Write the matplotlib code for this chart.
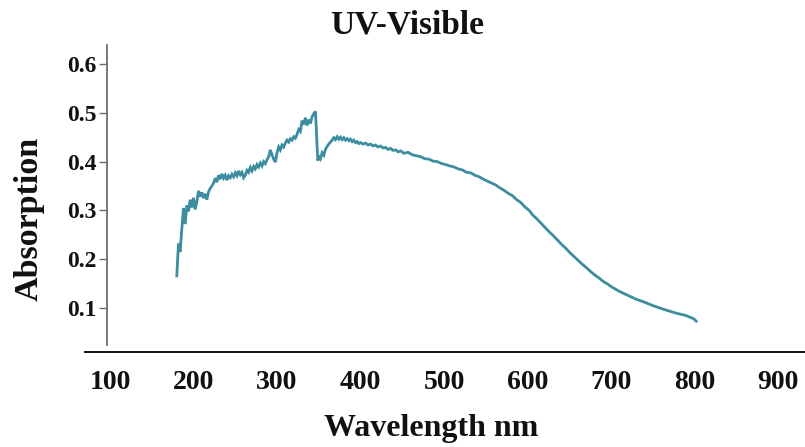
import matplotlib
matplotlib.use("Agg")
import matplotlib.pyplot as plt
from matplotlib.lines import Line2D

# ---- data ----
wavelength_uv = [180, 182, 184, 186, 188, 190, 192, 194, 196, 198, 200, 202, 204,
                 206, 208, 210, 212, 214, 216, 218, 220, 222, 224, 226, 228, 230,
                 232, 234, 236, 238, 240, 242, 244, 246, 248, 250, 252, 254, 256,
                 258, 260, 262, 264, 266, 268, 270, 272, 274, 276, 278, 280, 282,
                 284, 286, 288, 290, 292, 294, 296, 298, 300, 302, 304, 306, 308,
                 310, 312, 314, 316, 318, 320, 322, 324, 326, 328, 330, 332, 334,
                 336, 338, 340, 342, 344, 346, 347, 348, 349]
absorb_uv = [0.166, 0.232, 0.215, 0.262, 0.305, 0.272, 0.310, 0.298, 0.322, 0.306,
             0.326, 0.302, 0.318, 0.340, 0.328, 0.337, 0.325, 0.334, 0.322, 0.338,
             0.345, 0.350, 0.356, 0.366, 0.358, 0.372, 0.364, 0.375, 0.366, 0.372,
             0.362, 0.371, 0.367, 0.374, 0.369, 0.377, 0.371, 0.381, 0.373, 0.378,
             0.367, 0.372, 0.382, 0.378, 0.388, 0.381, 0.390, 0.385, 0.394, 0.389,
             0.397, 0.391, 0.400, 0.396, 0.404, 0.410, 0.424, 0.414, 0.405, 0.399,
             0.418, 0.430, 0.424, 0.434, 0.430, 0.438, 0.444, 0.440, 0.447, 0.444,
             0.451, 0.448, 0.456, 0.466, 0.462, 0.484, 0.476, 0.490, 0.474, 0.486,
             0.478, 0.492, 0.498, 0.503, 0.470, 0.430, 0.402]

wavelength_vis = [350, 352, 354, 356, 358, 360, 362, 364, 366, 368, 370, 372, 374,
                  376, 378, 380, 382, 384, 386, 388, 390, 392, 394, 396, 398, 400,
                  403, 406, 409, 412, 415, 418, 421, 424, 427, 430, 433, 436, 439,
                  442, 445, 448, 452, 457, 462, 467, 472, 477, 482, 487, 492, 497,
                  502, 507, 512, 517, 522, 527, 532, 537, 542, 547, 552, 557, 562,
                  567, 572, 577, 582, 587, 592, 597, 602, 606, 611, 616, 621, 626,
                  631, 636, 641, 646, 651, 656, 661, 666, 671, 676, 681, 686, 691,
                  696, 701, 710, 720, 730, 740, 750, 760, 769, 779, 789, 799, 802]
absorb_vis = [0.412, 0.406, 0.418, 0.413, 0.425, 0.431, 0.436, 0.440, 0.444, 0.449,
              0.445, 0.451, 0.446, 0.450, 0.445, 0.449, 0.444, 0.447, 0.443, 0.446,
              0.441, 0.444, 0.439, 0.441, 0.437, 0.439, 0.436, 0.438, 0.434, 0.436,
              0.432, 0.434, 0.430, 0.432, 0.428, 0.429, 0.425, 0.427, 0.423, 0.424,
              0.420, 0.422, 0.417, 0.419, 0.414, 0.412, 0.410, 0.406, 0.405, 0.401,
              0.400, 0.396, 0.394, 0.391, 0.389, 0.385, 0.383, 0.378, 0.377, 0.372,
              0.369, 0.364, 0.360, 0.356, 0.352, 0.346, 0.341, 0.335, 0.330, 0.322,
              0.316, 0.307, 0.300, 0.291, 0.283, 0.274, 0.265, 0.256, 0.248, 0.239,
              0.230, 0.222, 0.213, 0.205, 0.197, 0.189, 0.182, 0.174, 0.167, 0.161,
              0.154, 0.149, 0.143, 0.134, 0.126, 0.118, 0.112, 0.105, 0.099, 0.094,
              0.089, 0.085, 0.078, 0.073]

wavelength = wavelength_uv + wavelength_vis
absorption = absorb_uv + absorb_vis

x_ticks = [100, 200, 300, 400, 500, 600, 700, 800, 900]
y_ticks = [0.1, 0.2, 0.3, 0.4, 0.5, 0.6]
y_tick_labels = ["0.1", "0.2", "0.3", "0.4", "0.5", "0.6"]

title = "UV-Visible"
x_label = "Wavelength nm"
y_label = "Absorption"

# ---- figure ----
plt.rcParams['font.family'] = ['Liberation Serif', 'DejaVu Serif']
plt.rcParams['font.weight'] = 'bold'

W, H = 805, 447
fig = plt.figure(figsize=(W / 100, H / 100), dpi=100)
ax = fig.add_axes([107 / W, 1 - 352 / H, (W - 107) / W, (352 - 45) / H])

ax.plot(wavelength, absorption, color='#3b8d9f', lw=2.0, solid_joinstyle='miter')

ax.set_xlim(96.4, 932.3)
ax.set_ylim(0.0098, 0.639)

for s in ['top', 'right', 'bottom']:
    ax.spines[s].set_visible(False)
ax.spines['left'].set_color('#6e6e6e')
ax.spines['left'].set_linewidth(1.3)
ax.spines['left'].set_bounds(0.0242, 0.639)

# custom x-axis line extending left of the y-axis
ax.add_line(Line2D([-22 / 698, 1.0], [0, 0], transform=ax.transAxes,
                   color='#111111', lw=1.4, clip_on=False))

ax.set_xticks(x_ticks)
ax.set_xticklabels([str(t) for t in x_ticks])
ax.tick_params(axis='x', length=0, pad=13, labelsize=20, labelcolor='#111111')
ax.set_yticks(y_ticks)
ax.set_yticklabels(y_tick_labels)
ax.tick_params(axis='y', length=6, width=1.0, color='#6e6e6e', pad=1.5,
               labelsize=17, labelcolor='#111111')
for lbl in ax.get_xticklabels() + ax.get_yticklabels():
    lbl.set_fontweight('bold')

fig.text(407 / W, 1 - 34 / H, title, ha='center', va='baseline',
         fontsize=24, fontweight='bold', color='#111111')
fig.text(431 / W, 1 - 436 / H, x_label, ha='center', va='baseline',
         fontsize=23, fontweight='bold', color='#111111')
fig.text(29 / W, 1 - 219 / H, y_label, ha='center', va='center', rotation=90,
         fontsize=24.5, fontweight='bold', color='#111111')

fig.savefig('out.png', dpi=100)
